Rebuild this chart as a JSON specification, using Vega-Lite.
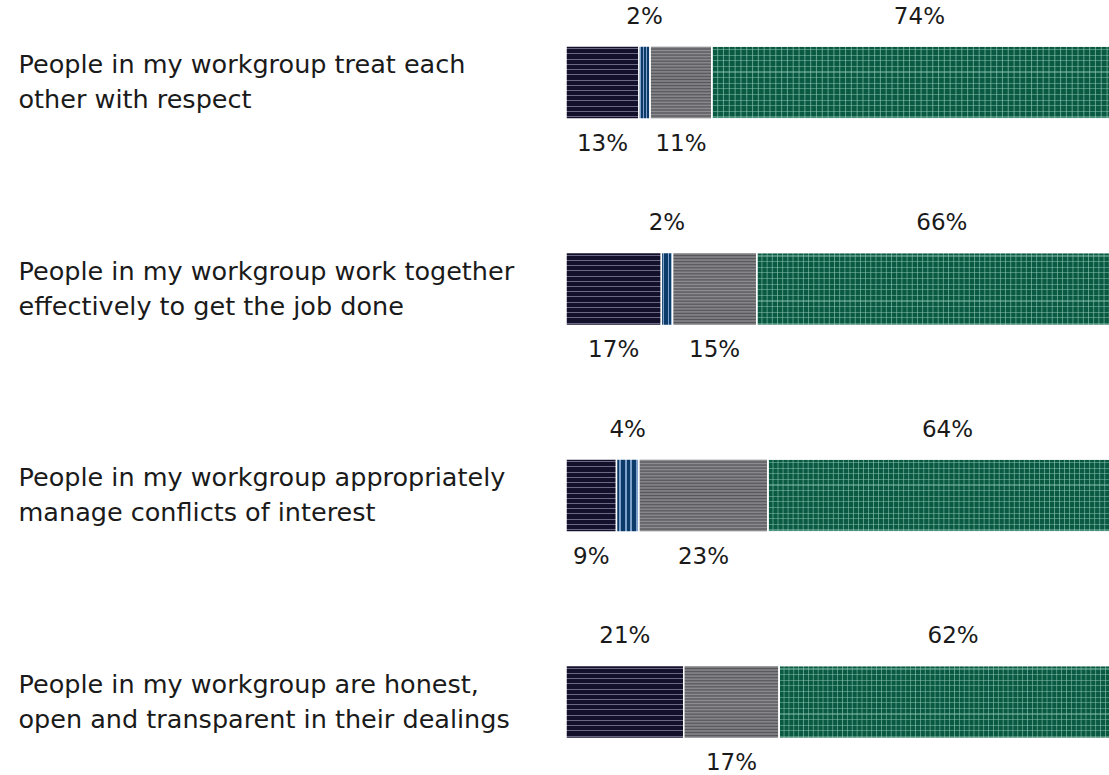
{
  "$schema": "https://vega.github.io/schema/vega-lite/v6.json",
  "width": 561,
  "height": 775,
  "autosize": {"type": "none"},
  "padding": {"left": 566, "top": 0, "right": 0, "bottom": 0},
  "background": "white",
  "config": {"view": {"stroke": null}, "font": "DejaVu Sans"},
  "data": {
    "values": [
      {"question": "People in my workgroup treat each|other with respect", "category": "Disagree", "order": 1, "pct": 13},
      {"question": "People in my workgroup treat each|other with respect", "category": "Don't know", "order": 2, "pct": 2},
      {"question": "People in my workgroup treat each|other with respect", "category": "Neither", "order": 3, "pct": 11},
      {"question": "People in my workgroup treat each|other with respect", "category": "Agree", "order": 4, "pct": 74},
      {"question": "People in my workgroup work together|effectively to get the job done", "category": "Disagree", "order": 1, "pct": 17},
      {"question": "People in my workgroup work together|effectively to get the job done", "category": "Don't know", "order": 2, "pct": 2},
      {"question": "People in my workgroup work together|effectively to get the job done", "category": "Neither", "order": 3, "pct": 15},
      {"question": "People in my workgroup work together|effectively to get the job done", "category": "Agree", "order": 4, "pct": 66},
      {"question": "People in my workgroup appropriately|manage conflicts of interest", "category": "Disagree", "order": 1, "pct": 9},
      {"question": "People in my workgroup appropriately|manage conflicts of interest", "category": "Don't know", "order": 2, "pct": 4},
      {"question": "People in my workgroup appropriately|manage conflicts of interest", "category": "Neither", "order": 3, "pct": 23},
      {"question": "People in my workgroup appropriately|manage conflicts of interest", "category": "Agree", "order": 4, "pct": 64},
      {"question": "People in my workgroup are honest,|open and transparent in their dealings", "category": "Disagree", "order": 1, "pct": 21},
      {"question": "People in my workgroup are honest,|open and transparent in their dealings", "category": "Neither", "order": 3, "pct": 17},
      {"question": "People in my workgroup are honest,|open and transparent in their dealings", "category": "Agree", "order": 4, "pct": 62}
    ]
  },
  "transform": [
    {"stack": "pct", "groupby": ["question"], "sort": [{"field": "order", "order": "ascending"}], "as": ["x0", "x1"]},
    {"calculate": "(datum.x0 + datum.x1) / 2", "as": "mid"},
    {"calculate": "datum.pct + '%'", "as": "lbl"},
    {"window": [{"op": "row_number", "as": "fromEnd"}], "groupby": ["question"], "sort": [{"field": "order", "order": "descending"}]},
    {"calculate": "datum.fromEnd % 2", "as": "above"}
  ],
  "encoding": {
    "y": {
      "field": "question",
      "type": "nominal",
      "sort": [
        "People in my workgroup treat each|other with respect",
        "People in my workgroup work together|effectively to get the job done",
        "People in my workgroup appropriately|manage conflicts of interest",
        "People in my workgroup are honest,|open and transparent in their dealings"
      ],
      "scale": {"paddingInner": 0.646, "paddingOuter": 0.1995, "align": 0.558},
      "axis": {
        "title": null,
        "domain": false,
        "ticks": false,
        "grid": false,
        "labelExpr": "split(datum.label, '|')",
        "labelAlign": "left",
        "labelBaseline": "middle",
        "labelPadding": 548,
        "labelOffset": -17.5,
        "labelFont": "DejaVu Sans",
        "labelFontSize": 25.5,
        "labelLineHeight": 35,
        "labelColor": "#1a1a1a",
        "labelLimit": 700
      }
    }
  },
  "layer": [
    {
      "transform": [{"filter": "datum.category === 'Disagree'"}],
      "mark": {
        "type": "rect", "stroke": "white", "strokeWidth": 1.5,
        "fill": {"gradient": "linear", "x1": 0, "y1": 0, "x2": 0, "y2": 1, "stops": [
          {"offset": 0, "color": "#13102b"},
          {"offset": 0.03, "color": "#13102b"}, {"offset": 0.03, "color": "#6b6883"}, {"offset": 0.044, "color": "#6b6883"}, {"offset": 0.044, "color": "#13102b"},
          {"offset": 0.101, "color": "#13102b"}, {"offset": 0.101, "color": "#6b6883"}, {"offset": 0.115, "color": "#6b6883"}, {"offset": 0.115, "color": "#13102b"},
          {"offset": 0.173, "color": "#13102b"}, {"offset": 0.173, "color": "#6b6883"}, {"offset": 0.187, "color": "#6b6883"}, {"offset": 0.187, "color": "#13102b"},
          {"offset": 0.244, "color": "#13102b"}, {"offset": 0.244, "color": "#6b6883"}, {"offset": 0.258, "color": "#6b6883"}, {"offset": 0.258, "color": "#13102b"},
          {"offset": 0.316, "color": "#13102b"}, {"offset": 0.316, "color": "#6b6883"}, {"offset": 0.33, "color": "#6b6883"}, {"offset": 0.33, "color": "#13102b"},
          {"offset": 0.387, "color": "#13102b"}, {"offset": 0.387, "color": "#6b6883"}, {"offset": 0.401, "color": "#6b6883"}, {"offset": 0.401, "color": "#13102b"},
          {"offset": 0.459, "color": "#13102b"}, {"offset": 0.459, "color": "#6b6883"}, {"offset": 0.473, "color": "#6b6883"}, {"offset": 0.473, "color": "#13102b"},
          {"offset": 0.53, "color": "#13102b"}, {"offset": 0.53, "color": "#6b6883"}, {"offset": 0.544, "color": "#6b6883"}, {"offset": 0.544, "color": "#13102b"},
          {"offset": 0.601, "color": "#13102b"}, {"offset": 0.601, "color": "#6b6883"}, {"offset": 0.615, "color": "#6b6883"}, {"offset": 0.615, "color": "#13102b"},
          {"offset": 0.673, "color": "#13102b"}, {"offset": 0.673, "color": "#6b6883"}, {"offset": 0.687, "color": "#6b6883"}, {"offset": 0.687, "color": "#13102b"},
          {"offset": 0.744, "color": "#13102b"}, {"offset": 0.744, "color": "#6b6883"}, {"offset": 0.758, "color": "#6b6883"}, {"offset": 0.758, "color": "#13102b"},
          {"offset": 0.816, "color": "#13102b"}, {"offset": 0.816, "color": "#6b6883"}, {"offset": 0.83, "color": "#6b6883"}, {"offset": 0.83, "color": "#13102b"},
          {"offset": 0.887, "color": "#13102b"}, {"offset": 0.887, "color": "#6b6883"}, {"offset": 0.901, "color": "#6b6883"}, {"offset": 0.901, "color": "#13102b"},
          {"offset": 0.959, "color": "#13102b"}, {"offset": 0.959, "color": "#6b6883"}, {"offset": 0.973, "color": "#6b6883"}, {"offset": 0.973, "color": "#13102b"},
          {"offset": 1, "color": "#13102b"}
        ]}
      },
      "encoding": {
        "x": {"field": "x0", "type": "quantitative", "scale": {"domain": [0, 100]}, "axis": null},
        "x2": {"field": "x1"}
      }
    },
    {
      "transform": [{"filter": "datum.category === \"Don't know\""}],
      "mark": {
        "type": "rect", "stroke": "white", "strokeWidth": 1.5,
        "fill": {"gradient": "linear", "x1": 0, "y1": 0, "x2": 1, "y2": 0, "stops": [
          {"offset": 0, "color": "#0d3b69"},
          {"offset": 0.12, "color": "#0d3b69"}, {"offset": 0.12, "color": "#7ea2cb"}, {"offset": 0.2, "color": "#7ea2cb"}, {"offset": 0.2, "color": "#0d3b69"},
          {"offset": 0.37, "color": "#0d3b69"}, {"offset": 0.37, "color": "#7ea2cb"}, {"offset": 0.45, "color": "#7ea2cb"}, {"offset": 0.45, "color": "#0d3b69"},
          {"offset": 0.62, "color": "#0d3b69"}, {"offset": 0.62, "color": "#7ea2cb"}, {"offset": 0.7, "color": "#7ea2cb"}, {"offset": 0.7, "color": "#0d3b69"},
          {"offset": 0.87, "color": "#0d3b69"}, {"offset": 0.87, "color": "#7ea2cb"}, {"offset": 0.95, "color": "#7ea2cb"}, {"offset": 0.95, "color": "#0d3b69"},
          {"offset": 1, "color": "#0d3b69"}
        ]}
      },
      "encoding": {
        "x": {"field": "x0", "type": "quantitative", "scale": {"domain": [0, 100]}, "axis": null},
        "x2": {"field": "x1"}
      }
    },
    {
      "transform": [{"filter": "datum.category === 'Neither'"}],
      "mark": {
        "type": "rect", "stroke": "white", "strokeWidth": 1.5,
        "fill": {"gradient": "linear", "x1": 0, "y1": 0, "x2": 0, "y2": 1, "stops": [
          {"offset": 0, "color": "#56565b"}, {"offset": 0.0208, "color": "#8e8e93"}, {"offset": 0.0417, "color": "#56565b"}, {"offset": 0.0625, "color": "#8e8e93"},
          {"offset": 0.0833, "color": "#56565b"}, {"offset": 0.1042, "color": "#8e8e93"}, {"offset": 0.125, "color": "#56565b"}, {"offset": 0.1458, "color": "#8e8e93"},
          {"offset": 0.1667, "color": "#56565b"}, {"offset": 0.1875, "color": "#8e8e93"}, {"offset": 0.2083, "color": "#56565b"}, {"offset": 0.2292, "color": "#8e8e93"},
          {"offset": 0.25, "color": "#56565b"}, {"offset": 0.2708, "color": "#8e8e93"}, {"offset": 0.2917, "color": "#56565b"}, {"offset": 0.3125, "color": "#8e8e93"},
          {"offset": 0.3333, "color": "#56565b"}, {"offset": 0.3542, "color": "#8e8e93"}, {"offset": 0.375, "color": "#56565b"}, {"offset": 0.3958, "color": "#8e8e93"},
          {"offset": 0.4167, "color": "#56565b"}, {"offset": 0.4375, "color": "#8e8e93"}, {"offset": 0.4583, "color": "#56565b"}, {"offset": 0.4792, "color": "#8e8e93"},
          {"offset": 0.5, "color": "#56565b"}, {"offset": 0.5208, "color": "#8e8e93"}, {"offset": 0.5417, "color": "#56565b"}, {"offset": 0.5625, "color": "#8e8e93"},
          {"offset": 0.5833, "color": "#56565b"}, {"offset": 0.6042, "color": "#8e8e93"}, {"offset": 0.625, "color": "#56565b"}, {"offset": 0.6458, "color": "#8e8e93"},
          {"offset": 0.6667, "color": "#56565b"}, {"offset": 0.6875, "color": "#8e8e93"}, {"offset": 0.7083, "color": "#56565b"}, {"offset": 0.7292, "color": "#8e8e93"},
          {"offset": 0.75, "color": "#56565b"}, {"offset": 0.7708, "color": "#8e8e93"}, {"offset": 0.7917, "color": "#56565b"}, {"offset": 0.8125, "color": "#8e8e93"},
          {"offset": 0.8333, "color": "#56565b"}, {"offset": 0.8542, "color": "#8e8e93"}, {"offset": 0.875, "color": "#56565b"}, {"offset": 0.8958, "color": "#8e8e93"},
          {"offset": 0.9167, "color": "#56565b"}, {"offset": 0.9375, "color": "#8e8e93"}, {"offset": 0.9583, "color": "#56565b"}, {"offset": 0.9792, "color": "#8e8e93"},
          {"offset": 1, "color": "#56565b"}
        ]}
      },
      "encoding": {
        "x": {"field": "x0", "type": "quantitative", "scale": {"domain": [0, 100]}, "axis": null},
        "x2": {"field": "x1"}
      }
    },
    {
      "transform": [{"filter": "datum.category === 'Agree'"}],
      "mark": {
        "type": "rect", "stroke": "white", "strokeWidth": 1.5,
        "fill": {"gradient": "linear", "x1": 0, "y1": 0, "x2": 1, "y2": 0, "stops": [
          {"offset": 0, "color": "#0a5a43"},
          {"offset": 0.0115, "color": "#0a5a43"}, {"offset": 0.014, "color": "#5f9f8a"}, {"offset": 0.0165, "color": "#0a5a43"},
          {"offset": 0.0255, "color": "#0a5a43"}, {"offset": 0.028, "color": "#5f9f8a"}, {"offset": 0.0305, "color": "#0a5a43"},
          {"offset": 0.0395, "color": "#0a5a43"}, {"offset": 0.042, "color": "#5f9f8a"}, {"offset": 0.0445, "color": "#0a5a43"},
          {"offset": 0.0535, "color": "#0a5a43"}, {"offset": 0.056, "color": "#5f9f8a"}, {"offset": 0.0585, "color": "#0a5a43"},
          {"offset": 0.0675, "color": "#0a5a43"}, {"offset": 0.07, "color": "#5f9f8a"}, {"offset": 0.0725, "color": "#0a5a43"},
          {"offset": 0.0815, "color": "#0a5a43"}, {"offset": 0.084, "color": "#5f9f8a"}, {"offset": 0.0865, "color": "#0a5a43"},
          {"offset": 0.0955, "color": "#0a5a43"}, {"offset": 0.098, "color": "#5f9f8a"}, {"offset": 0.1005, "color": "#0a5a43"},
          {"offset": 0.1095, "color": "#0a5a43"}, {"offset": 0.112, "color": "#5f9f8a"}, {"offset": 0.1145, "color": "#0a5a43"},
          {"offset": 0.1235, "color": "#0a5a43"}, {"offset": 0.126, "color": "#5f9f8a"}, {"offset": 0.1285, "color": "#0a5a43"},
          {"offset": 0.1375, "color": "#0a5a43"}, {"offset": 0.14, "color": "#5f9f8a"}, {"offset": 0.1425, "color": "#0a5a43"},
          {"offset": 0.1515, "color": "#0a5a43"}, {"offset": 0.154, "color": "#5f9f8a"}, {"offset": 0.1565, "color": "#0a5a43"},
          {"offset": 0.1655, "color": "#0a5a43"}, {"offset": 0.168, "color": "#5f9f8a"}, {"offset": 0.1705, "color": "#0a5a43"},
          {"offset": 0.1795, "color": "#0a5a43"}, {"offset": 0.182, "color": "#5f9f8a"}, {"offset": 0.1845, "color": "#0a5a43"},
          {"offset": 0.1935, "color": "#0a5a43"}, {"offset": 0.196, "color": "#5f9f8a"}, {"offset": 0.1985, "color": "#0a5a43"},
          {"offset": 0.2075, "color": "#0a5a43"}, {"offset": 0.21, "color": "#5f9f8a"}, {"offset": 0.2125, "color": "#0a5a43"},
          {"offset": 0.2215, "color": "#0a5a43"}, {"offset": 0.224, "color": "#5f9f8a"}, {"offset": 0.2265, "color": "#0a5a43"},
          {"offset": 0.2355, "color": "#0a5a43"}, {"offset": 0.238, "color": "#5f9f8a"}, {"offset": 0.2405, "color": "#0a5a43"},
          {"offset": 0.2495, "color": "#0a5a43"}, {"offset": 0.252, "color": "#5f9f8a"}, {"offset": 0.2545, "color": "#0a5a43"},
          {"offset": 0.2635, "color": "#0a5a43"}, {"offset": 0.266, "color": "#5f9f8a"}, {"offset": 0.2685, "color": "#0a5a43"},
          {"offset": 0.2775, "color": "#0a5a43"}, {"offset": 0.28, "color": "#5f9f8a"}, {"offset": 0.2825, "color": "#0a5a43"},
          {"offset": 0.2915, "color": "#0a5a43"}, {"offset": 0.294, "color": "#5f9f8a"}, {"offset": 0.2965, "color": "#0a5a43"},
          {"offset": 0.3055, "color": "#0a5a43"}, {"offset": 0.308, "color": "#5f9f8a"}, {"offset": 0.3105, "color": "#0a5a43"},
          {"offset": 0.3195, "color": "#0a5a43"}, {"offset": 0.322, "color": "#5f9f8a"}, {"offset": 0.3245, "color": "#0a5a43"},
          {"offset": 0.3335, "color": "#0a5a43"}, {"offset": 0.336, "color": "#5f9f8a"}, {"offset": 0.3385, "color": "#0a5a43"},
          {"offset": 0.3475, "color": "#0a5a43"}, {"offset": 0.35, "color": "#5f9f8a"}, {"offset": 0.3525, "color": "#0a5a43"},
          {"offset": 0.3615, "color": "#0a5a43"}, {"offset": 0.364, "color": "#5f9f8a"}, {"offset": 0.3665, "color": "#0a5a43"},
          {"offset": 0.3755, "color": "#0a5a43"}, {"offset": 0.378, "color": "#5f9f8a"}, {"offset": 0.3805, "color": "#0a5a43"},
          {"offset": 0.3895, "color": "#0a5a43"}, {"offset": 0.392, "color": "#5f9f8a"}, {"offset": 0.3945, "color": "#0a5a43"},
          {"offset": 0.4035, "color": "#0a5a43"}, {"offset": 0.406, "color": "#5f9f8a"}, {"offset": 0.4085, "color": "#0a5a43"},
          {"offset": 0.4175, "color": "#0a5a43"}, {"offset": 0.42, "color": "#5f9f8a"}, {"offset": 0.4225, "color": "#0a5a43"},
          {"offset": 0.4315, "color": "#0a5a43"}, {"offset": 0.434, "color": "#5f9f8a"}, {"offset": 0.4365, "color": "#0a5a43"},
          {"offset": 0.4455, "color": "#0a5a43"}, {"offset": 0.448, "color": "#5f9f8a"}, {"offset": 0.4505, "color": "#0a5a43"},
          {"offset": 0.4595, "color": "#0a5a43"}, {"offset": 0.462, "color": "#5f9f8a"}, {"offset": 0.4645, "color": "#0a5a43"},
          {"offset": 0.4735, "color": "#0a5a43"}, {"offset": 0.476, "color": "#5f9f8a"}, {"offset": 0.4785, "color": "#0a5a43"},
          {"offset": 0.4875, "color": "#0a5a43"}, {"offset": 0.49, "color": "#5f9f8a"}, {"offset": 0.4925, "color": "#0a5a43"},
          {"offset": 0.5015, "color": "#0a5a43"}, {"offset": 0.504, "color": "#5f9f8a"}, {"offset": 0.5065, "color": "#0a5a43"},
          {"offset": 0.5155, "color": "#0a5a43"}, {"offset": 0.518, "color": "#5f9f8a"}, {"offset": 0.5205, "color": "#0a5a43"},
          {"offset": 0.5295, "color": "#0a5a43"}, {"offset": 0.532, "color": "#5f9f8a"}, {"offset": 0.5345, "color": "#0a5a43"},
          {"offset": 0.5435, "color": "#0a5a43"}, {"offset": 0.546, "color": "#5f9f8a"}, {"offset": 0.5485, "color": "#0a5a43"},
          {"offset": 0.5575, "color": "#0a5a43"}, {"offset": 0.56, "color": "#5f9f8a"}, {"offset": 0.5625, "color": "#0a5a43"},
          {"offset": 0.5715, "color": "#0a5a43"}, {"offset": 0.574, "color": "#5f9f8a"}, {"offset": 0.5765, "color": "#0a5a43"},
          {"offset": 0.5855, "color": "#0a5a43"}, {"offset": 0.588, "color": "#5f9f8a"}, {"offset": 0.5905, "color": "#0a5a43"},
          {"offset": 0.5995, "color": "#0a5a43"}, {"offset": 0.602, "color": "#5f9f8a"}, {"offset": 0.6045, "color": "#0a5a43"},
          {"offset": 0.6135, "color": "#0a5a43"}, {"offset": 0.616, "color": "#5f9f8a"}, {"offset": 0.6185, "color": "#0a5a43"},
          {"offset": 0.6275, "color": "#0a5a43"}, {"offset": 0.63, "color": "#5f9f8a"}, {"offset": 0.6325, "color": "#0a5a43"},
          {"offset": 0.6415, "color": "#0a5a43"}, {"offset": 0.644, "color": "#5f9f8a"}, {"offset": 0.6465, "color": "#0a5a43"},
          {"offset": 0.6555, "color": "#0a5a43"}, {"offset": 0.658, "color": "#5f9f8a"}, {"offset": 0.6605, "color": "#0a5a43"},
          {"offset": 0.6695, "color": "#0a5a43"}, {"offset": 0.672, "color": "#5f9f8a"}, {"offset": 0.6745, "color": "#0a5a43"},
          {"offset": 0.6835, "color": "#0a5a43"}, {"offset": 0.686, "color": "#5f9f8a"}, {"offset": 0.6885, "color": "#0a5a43"},
          {"offset": 0.6975, "color": "#0a5a43"}, {"offset": 0.7, "color": "#5f9f8a"}, {"offset": 0.7025, "color": "#0a5a43"},
          {"offset": 0.7115, "color": "#0a5a43"}, {"offset": 0.714, "color": "#5f9f8a"}, {"offset": 0.7165, "color": "#0a5a43"},
          {"offset": 0.7255, "color": "#0a5a43"}, {"offset": 0.728, "color": "#5f9f8a"}, {"offset": 0.7305, "color": "#0a5a43"},
          {"offset": 0.7395, "color": "#0a5a43"}, {"offset": 0.742, "color": "#5f9f8a"}, {"offset": 0.7445, "color": "#0a5a43"},
          {"offset": 0.7535, "color": "#0a5a43"}, {"offset": 0.756, "color": "#5f9f8a"}, {"offset": 0.7585, "color": "#0a5a43"},
          {"offset": 0.7675, "color": "#0a5a43"}, {"offset": 0.77, "color": "#5f9f8a"}, {"offset": 0.7725, "color": "#0a5a43"},
          {"offset": 0.7815, "color": "#0a5a43"}, {"offset": 0.784, "color": "#5f9f8a"}, {"offset": 0.7865, "color": "#0a5a43"},
          {"offset": 0.7955, "color": "#0a5a43"}, {"offset": 0.798, "color": "#5f9f8a"}, {"offset": 0.8005, "color": "#0a5a43"},
          {"offset": 0.8095, "color": "#0a5a43"}, {"offset": 0.812, "color": "#5f9f8a"}, {"offset": 0.8145, "color": "#0a5a43"},
          {"offset": 0.8235, "color": "#0a5a43"}, {"offset": 0.826, "color": "#5f9f8a"}, {"offset": 0.8285, "color": "#0a5a43"},
          {"offset": 0.8375, "color": "#0a5a43"}, {"offset": 0.84, "color": "#5f9f8a"}, {"offset": 0.8425, "color": "#0a5a43"},
          {"offset": 0.8515, "color": "#0a5a43"}, {"offset": 0.854, "color": "#5f9f8a"}, {"offset": 0.8565, "color": "#0a5a43"},
          {"offset": 0.8655, "color": "#0a5a43"}, {"offset": 0.868, "color": "#5f9f8a"}, {"offset": 0.8705, "color": "#0a5a43"},
          {"offset": 0.8795, "color": "#0a5a43"}, {"offset": 0.882, "color": "#5f9f8a"}, {"offset": 0.8845, "color": "#0a5a43"},
          {"offset": 0.8935, "color": "#0a5a43"}, {"offset": 0.896, "color": "#5f9f8a"}, {"offset": 0.8985, "color": "#0a5a43"},
          {"offset": 0.9075, "color": "#0a5a43"}, {"offset": 0.91, "color": "#5f9f8a"}, {"offset": 0.9125, "color": "#0a5a43"},
          {"offset": 0.9215, "color": "#0a5a43"}, {"offset": 0.924, "color": "#5f9f8a"}, {"offset": 0.9265, "color": "#0a5a43"},
          {"offset": 0.9355, "color": "#0a5a43"}, {"offset": 0.938, "color": "#5f9f8a"}, {"offset": 0.9405, "color": "#0a5a43"},
          {"offset": 0.9495, "color": "#0a5a43"}, {"offset": 0.952, "color": "#5f9f8a"}, {"offset": 0.9545, "color": "#0a5a43"},
          {"offset": 0.9635, "color": "#0a5a43"}, {"offset": 0.966, "color": "#5f9f8a"}, {"offset": 0.9685, "color": "#0a5a43"},
          {"offset": 0.9775, "color": "#0a5a43"}, {"offset": 0.98, "color": "#5f9f8a"}, {"offset": 0.9825, "color": "#0a5a43"},
          {"offset": 0.9915, "color": "#0a5a43"}, {"offset": 0.994, "color": "#5f9f8a"}, {"offset": 0.9965, "color": "#0a5a43"},
          {"offset": 1, "color": "#0a5a43"}
        ]}
      },
      "encoding": {
        "x": {"field": "x0", "type": "quantitative", "scale": {"domain": [0, 100]}, "axis": null},
        "x2": {"field": "x1"}
      }
    },
    {
      "transform": [{"filter": "datum.category === 'Agree'"}],
      "mark": {
        "type": "rect", "stroke": "white", "strokeWidth": 1.5,
        "fill": {"gradient": "linear", "x1": 0, "y1": 0, "x2": 0, "y2": 1, "stops": [
          {"offset": 0, "color": "rgba(150,205,185,0)"},
          {"offset": 0.04, "color": "rgba(150,205,185,0)"}, {"offset": 0.04, "color": "rgba(150,205,185,0.45)"}, {"offset": 0.056, "color": "rgba(150,205,185,0.45)"}, {"offset": 0.056, "color": "rgba(150,205,185,0)"},
          {"offset": 0.117, "color": "rgba(150,205,185,0)"}, {"offset": 0.117, "color": "rgba(150,205,185,0.45)"}, {"offset": 0.133, "color": "rgba(150,205,185,0.45)"}, {"offset": 0.133, "color": "rgba(150,205,185,0)"},
          {"offset": 0.194, "color": "rgba(150,205,185,0)"}, {"offset": 0.194, "color": "rgba(150,205,185,0.45)"}, {"offset": 0.21, "color": "rgba(150,205,185,0.45)"}, {"offset": 0.21, "color": "rgba(150,205,185,0)"},
          {"offset": 0.271, "color": "rgba(150,205,185,0)"}, {"offset": 0.271, "color": "rgba(150,205,185,0.45)"}, {"offset": 0.287, "color": "rgba(150,205,185,0.45)"}, {"offset": 0.287, "color": "rgba(150,205,185,0)"},
          {"offset": 0.348, "color": "rgba(150,205,185,0)"}, {"offset": 0.348, "color": "rgba(150,205,185,0.45)"}, {"offset": 0.364, "color": "rgba(150,205,185,0.45)"}, {"offset": 0.364, "color": "rgba(150,205,185,0)"},
          {"offset": 0.425, "color": "rgba(150,205,185,0)"}, {"offset": 0.425, "color": "rgba(150,205,185,0.45)"}, {"offset": 0.441, "color": "rgba(150,205,185,0.45)"}, {"offset": 0.441, "color": "rgba(150,205,185,0)"},
          {"offset": 0.502, "color": "rgba(150,205,185,0)"}, {"offset": 0.502, "color": "rgba(150,205,185,0.45)"}, {"offset": 0.518, "color": "rgba(150,205,185,0.45)"}, {"offset": 0.518, "color": "rgba(150,205,185,0)"},
          {"offset": 0.579, "color": "rgba(150,205,185,0)"}, {"offset": 0.579, "color": "rgba(150,205,185,0.45)"}, {"offset": 0.595, "color": "rgba(150,205,185,0.45)"}, {"offset": 0.595, "color": "rgba(150,205,185,0)"},
          {"offset": 0.656, "color": "rgba(150,205,185,0)"}, {"offset": 0.656, "color": "rgba(150,205,185,0.45)"}, {"offset": 0.672, "color": "rgba(150,205,185,0.45)"}, {"offset": 0.672, "color": "rgba(150,205,185,0)"},
          {"offset": 0.733, "color": "rgba(150,205,185,0)"}, {"offset": 0.733, "color": "rgba(150,205,185,0.45)"}, {"offset": 0.749, "color": "rgba(150,205,185,0.45)"}, {"offset": 0.749, "color": "rgba(150,205,185,0)"},
          {"offset": 0.81, "color": "rgba(150,205,185,0)"}, {"offset": 0.81, "color": "rgba(150,205,185,0.45)"}, {"offset": 0.826, "color": "rgba(150,205,185,0.45)"}, {"offset": 0.826, "color": "rgba(150,205,185,0)"},
          {"offset": 0.887, "color": "rgba(150,205,185,0)"}, {"offset": 0.887, "color": "rgba(150,205,185,0.45)"}, {"offset": 0.903, "color": "rgba(150,205,185,0.45)"}, {"offset": 0.903, "color": "rgba(150,205,185,0)"},
          {"offset": 0.964, "color": "rgba(150,205,185,0)"}, {"offset": 0.964, "color": "rgba(150,205,185,0.45)"}, {"offset": 0.98, "color": "rgba(150,205,185,0.45)"}, {"offset": 0.98, "color": "rgba(150,205,185,0)"},
          {"offset": 1, "color": "rgba(150,205,185,0)"}
        ]}
      },
      "encoding": {
        "x": {"field": "x0", "type": "quantitative", "scale": {"domain": [0, 100]}, "axis": null},
        "x2": {"field": "x1"}
      }
    },
    {
      "transform": [{"filter": "datum.above === 1"}],
      "mark": {"type": "text", "dy": -66, "fontSize": 23, "font": "DejaVu Sans", "color": "#1a1a1a", "baseline": "middle", "align": "center"},
      "encoding": {
        "x": {"field": "mid", "type": "quantitative", "scale": {"domain": [0, 100]}, "axis": null},
        "text": {"field": "lbl"}
      }
    },
    {
      "transform": [{"filter": "datum.above === 0"}],
      "mark": {"type": "text", "dy": 61, "fontSize": 23, "font": "DejaVu Sans", "color": "#1a1a1a", "baseline": "middle", "align": "center"},
      "encoding": {
        "x": {"field": "mid", "type": "quantitative", "scale": {"domain": [0, 100]}, "axis": null},
        "text": {"field": "lbl"}
      }
    }
  ]
}
